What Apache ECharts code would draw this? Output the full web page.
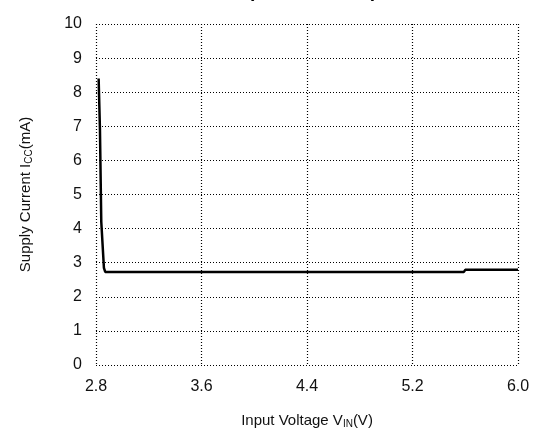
<!DOCTYPE html>
<html>
<head>
<meta charset="utf-8">
<script src="https://cdn.jsdelivr.net/npm/echarts@6/dist/echarts.min.js"></script>
<style>
html,body{margin:0;padding:0;background:#fff;}
#chart{width:543px;height:437px;}
</style>
</head>
<body>
<div id="chart"></div>
<script>
// 输入电压 (V)
var voltage = [2.82, 2.83, 2.84, 2.86, 2.87, 5.59, 5.60, 6.0];
// 电源电流 (mA)
var current = [8.4, 6.9, 4.2, 2.85, 2.73, 2.73, 2.79, 2.79];
var xTicks = [2.8, 3.6, 4.4, 5.2, 6.0];

var points = [];
for (var i = 0; i < voltage.length; i++) {
	points.push([voltage[i], current[i]]);
}

var labelFont = 'Liberation Sans, Arial, sans-serif';
var myChart = echarts.init(document.getElementById('chart'));
var option = {
	animation: false,
	backgroundColor: '#fff',
	graphic: [{
		type: 'text',
		left: 248,
		top: -18,
		style: {
			text: '(   Ta = 25°C   )',
			font: 'bold 19px ' + labelFont,
			fill: '#000'
		}
	}],
	grid: {
		left: 96,
		right: 25,
		top: 24,
		bottom: 72
	},
	xAxis: {
		type: 'value',
		min: xTicks[0],
		max: xTicks[xTicks.length - 1],
		interval: 0.8,
		name: 'Input Voltage V{sub|IN}(V)',
		nameLocation: 'middle',
		nameGap: 48,
		nameTextStyle: {
			color: '#111',
			fontSize: 15,
			fontFamily: labelFont,
			rich: {sub: {fontSize: 10, verticalAlign: 'bottom', padding: [6, 0, 0, 0], color: '#111'}}
		},
		axisLine: {show: false},
		axisTick: {show: false},
		axisLabel: {
			color: '#111',
			fontSize: 16,
			fontFamily: labelFont,
			margin: 14,
			formatter: function (v) { return v.toFixed(1); }
		},
		splitLine: {
			show: true,
			showMinLine: true,
			showMaxLine: true,
			lineStyle: {color: '#000', type: [1, 2], width: 1.2}
		}
	},
	yAxis: {
		type: 'value',
		min: 0,
		max: 10,
		interval: 1,
		name: 'Supply Current I{sub|CC}(mA)',
		nameLocation: 'middle',
		nameGap: 62,
		nameTextStyle: {
			color: '#111',
			fontSize: 15,
			fontFamily: labelFont,
			rich: {sub: {fontSize: 10, verticalAlign: 'bottom', padding: [6, 0, 0, 0], color: '#111'}}
		},
		axisLine: {show: false},
		axisTick: {show: false},
		axisLabel: {
			color: '#111',
			fontSize: 16,
			fontFamily: labelFont,
			margin: 14
		},
		splitLine: {
			show: true,
			showMinLine: true,
			showMaxLine: true,
			lineStyle: {color: '#000', type: [1, 2], width: 1.2}
		}
	},
	series: [{
		type: 'line',
		data: points,
		showSymbol: false,
		symbol: 'none',
		lineStyle: {color: '#000', width: 2.5},
		z: 5
	}]
};
myChart.setOption(option);
</script>
</body>
</html>
